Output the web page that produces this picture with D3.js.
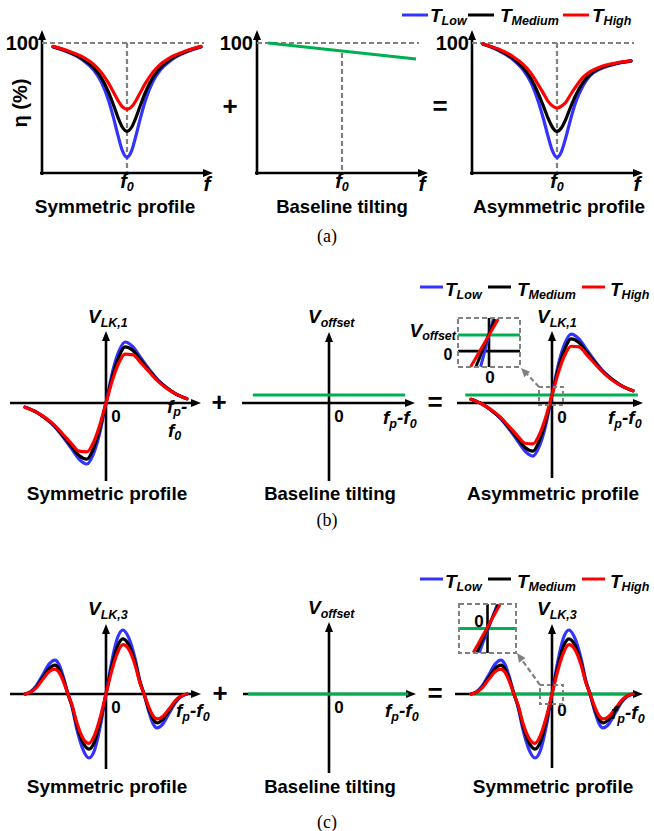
<!DOCTYPE html>
<html><head><meta charset="utf-8">
<script src="https://d3js.org/d3.v7.min.js"></script>
<style>html,body{margin:0;padding:0;background:#fff}svg{display:block}</style>
</head><body>
<svg id="fig" width="654" height="831"></svg>
<script>
// ===================== DATA =====================
const seriesKeys = ["Low", "Medium", "High"];
const legendMain = "T";

// (a) transmission efficiency eta (%) vs normalized detuning (f - f0)
const detuneA = [-1, -0.8, -0.6, -0.45, -0.35, -0.25, -0.18, -0.12, -0.06, 0, 0.06, 0.12, 0.18, 0.25, 0.35, 0.45, 0.6, 0.8, 1];
const etaSymLow  = [97, 93, 87, 79.2, 70.3, 56, 42, 28.5, 16.8, 12, 16.8, 28.5, 42, 56, 70.3, 79.2, 87, 93, 97];
const etaSymMed  = [97.2, 93.5, 87.8, 81, 73.5, 62.2, 51.9, 42.5, 35, 32, 35, 42.5, 51.9, 62.2, 73.5, 81, 87.8, 93.5, 97.2];
const etaSymHigh = [97.4, 94, 89.3, 83.6, 77.6, 69.1, 61.9, 55.6, 50.8, 49, 50.8, 55.6, 61.9, 69.1, 77.6, 83.6, 89.3, 94, 97.4];
const tiltX = [-1, 1];
const tiltEta = [100, 87.7];
const etaAsymLow  = [99, 94.5, 87.5, 78.7, 69.3, 54.5, 41, 28, 16.8, 12, 16.5, 27.5, 40.5, 54, 67, 75, 80.5, 84, 86];
const etaAsymMed  = [99.2, 95, 88.3, 80.5, 72.5, 60.7, 50.9, 42, 35, 32, 34.8, 41.5, 50.2, 59.5, 69.5, 76, 81, 84.3, 86.2];
const etaAsymHigh = [99.3, 95.5, 89.8, 83.1, 76.6, 67.6, 60.9, 55.1, 51.5, 50, 51.5, 54.5, 60, 66, 73.5, 78, 82, 84.6, 86.4];
const yTickA = ["100"];

// (b) V_LK,1 vs (fp - f0), normalized
const detuneB = [-1, -0.86, -0.75, -0.64, -0.54, -0.43, -0.333, -0.235, -0.16, -0.086, 0, 0.086, 0.16, 0.235, 0.333, 0.43, 0.54, 0.64, 0.75, 0.86, 1];
const lk1Low  = [-0.07, -0.15, -0.25, -0.38, -0.54, -0.74, -0.92, -1.0, -0.85, -0.54, 0, 0.54, 0.85, 1.0, 0.92, 0.74, 0.54, 0.38, 0.25, 0.15, 0.07];
const lk1Med  = [-0.07, -0.15, -0.25, -0.37, -0.52, -0.70, -0.86, -0.92, -0.76, -0.47, 0, 0.47, 0.76, 0.92, 0.86, 0.70, 0.52, 0.37, 0.25, 0.15, 0.07];
const lk1High = [-0.07, -0.15, -0.24, -0.36, -0.50, -0.66, -0.79, -0.80, -0.66, -0.40, 0, 0.40, 0.66, 0.80, 0.79, 0.66, 0.50, 0.36, 0.24, 0.15, 0.07];
const offsetMidBX = [-0.94, 0.94];
const offsetRightBX = [-1.07, 1.06];
const offsetB = [0.13, 0.13];
const lk1AsymLow  = [0.06, -0.02, -0.12, -0.25, -0.41, -0.61, -0.79, -0.87, -0.72, -0.41, 0.13, 0.67, 0.98, 1.13, 1.05, 0.87, 0.67, 0.51, 0.38, 0.28, 0.20];
const lk1AsymMed  = [0.06, -0.02, -0.12, -0.24, -0.39, -0.57, -0.73, -0.79, -0.63, -0.34, 0.13, 0.60, 0.89, 1.05, 0.99, 0.83, 0.65, 0.50, 0.38, 0.28, 0.20];
const lk1AsymHigh = [0.06, -0.02, -0.11, -0.23, -0.37, -0.53, -0.66, -0.67, -0.53, -0.27, 0.13, 0.53, 0.79, 0.93, 0.92, 0.79, 0.63, 0.49, 0.37, 0.28, 0.20];
// inset (b): zoomed lines near the origin, [x, y] end points in inset units
const insetBLow  = [[-0.27, -0.99], [0.14, 0.96]];
const insetBMed  = [[-0.42, -0.99], [0.19, 0.96]];
const insetBHigh = [[-0.59, -0.99], [0.30, 0.96]];
const insetBLevels = [0.31, -0.35]; // V_offset level, zero level

// (c) V_LK,3 vs (fp - f0), normalized
const detuneC = [-1, -0.93, -0.86, -0.78, -0.70, -0.63, -0.58, -0.53, -0.47, -0.42, -0.36, -0.28, -0.21, -0.14, -0.07, 0, 0.07, 0.14, 0.21, 0.28, 0.36, 0.42, 0.47, 0.53, 0.58, 0.63, 0.70, 0.78, 0.86, 0.93, 1];
const lk3Low  = [0, 0.04, 0.13, 0.30, 0.47, 0.53, 0.46, 0.28, 0, -0.20, -0.55, -0.88, -1.0, -0.87, -0.50, 0, 0.50, 0.87, 1.0, 0.88, 0.55, 0.20, 0, -0.28, -0.46, -0.53, -0.47, -0.30, -0.13, -0.04, 0];
const lk3Med  = [0, 0.03, 0.11, 0.26, 0.40, 0.45, 0.39, 0.24, 0, -0.18, -0.49, -0.77, -0.86, -0.74, -0.42, 0, 0.42, 0.74, 0.86, 0.77, 0.49, 0.18, 0, -0.24, -0.39, -0.45, -0.40, -0.26, -0.11, -0.03, 0];
const lk3High = [0, 0.03, 0.10, 0.23, 0.35, 0.39, 0.34, 0.21, 0, -0.17, -0.45, -0.70, -0.77, -0.64, -0.36, 0, 0.36, 0.64, 0.77, 0.70, 0.45, 0.17, 0, -0.21, -0.34, -0.39, -0.35, -0.23, -0.10, -0.03, 0];
const offsetMidCX = [-1.0, 0.98];
const offsetRightCX = [-1.0, 1.0];
const offsetC = [0, 0];
const insetCLow  = [[-0.29, -0.99], [0.34, 0.98]];
const insetCMed  = [[-0.38, -0.99], [0.38, 0.98]];
const insetCHigh = [[-0.50, -0.99], [0.44, 0.98]];
const insetCLevels = [0];

const panelTitles = ["Symmetric profile", "Baseline tilting", "Asymmetric profile"];
const captions = ["(a)", "(b)", "(c)"];

// ===================== STYLE / HELPERS =====================
const FONT = "'Liberation Sans', Arial, Helvetica, sans-serif";
const SERIF = "'Liberation Serif', 'Times New Roman', serif";
const colorOf = {Low: "#3333ff", Medium: "#000000", High: "#ff0000"};
const GREEN = "#00b050", GRAY = "#808080";
const svg = d3.select("#fig");

function tri(g, x, y, angle, L, W, color) {
  const ca = Math.cos(angle), sa = Math.sin(angle);
  const bx = x - L * ca, by = y - L * sa;
  const pts = [[x, y], [bx - W / 2 * (-sa), by - W / 2 * ca], [bx + W / 2 * (-sa), by + W / 2 * ca]];
  g.append("path").attr("d", "M" + pts.map(p => p.join(",")).join("L") + "Z").attr("fill", color || "#000");
}
function axes(g, x0, yTop, yBot, y0, xLeft, xRight) {
  g.append("line").attr("x1", x0).attr("x2", x0).attr("y1", yBot).attr("y2", yTop + 8)
    .attr("stroke", "#000").attr("stroke-width", 2.6);
  tri(g, x0, yTop, -Math.PI / 2, 10, 8);
  g.append("line").attr("x1", xLeft).attr("x2", xRight - 8).attr("y1", y0).attr("y2", y0)
    .attr("stroke", "#000").attr("stroke-width", 2.6);
  tri(g, xRight, y0, 0, 10, 8);
}
function rich(g, x, y, parts, anchor) {
  const t = g.append("text").attr("x", x).attr("y", y)
    .attr("font-family", FONT).attr("font-weight", "bold")
    .attr("text-anchor", anchor || "start").attr("fill", "#000");
  let cur = 0;
  parts.forEach(p => {
    const s = t.append("tspan").text(p[0]).attr("font-size", p[1]);
    const d = (p[2] || 0) - cur;
    if (d) s.attr("dy", d);
    cur = p[2] || 0;
    s.attr("font-style", p[3] === false ? "normal" : "italic");
  });
  return t;
}
function plain(g, x, y, str, size, anchor) {
  return g.append("text").attr("x", x).attr("y", y).text(str)
    .attr("font-family", FONT).attr("font-weight", "bold").attr("font-size", size)
    .attr("text-anchor", anchor || "middle").attr("fill", "#000");
}
function curve(g, xs, ys, xS, yS, color, w) {
  const line = d3.line().x((d, i) => xS(xs[i])).y(d => yS(d)).curve(d3.curveMonotoneX);
  g.append("path").attr("d", line(ys)).attr("fill", "none")
    .attr("stroke", color).attr("stroke-width", w || 3).attr("stroke-linejoin", "round").attr("stroke-linecap", "round");
}
function dashed(g, x1, y1, x2, y2) {
  g.append("line").attr("x1", x1).attr("y1", y1).attr("x2", x2).attr("y2", y2)
    .attr("stroke", GRAY).attr("stroke-width", 2.2).attr("stroke-dasharray", "5,3");
}
function legend(y, lineX, lineLen, textX, baseline) {
  const g = svg.append("g");
  seriesKeys.forEach((k, i) => {
    g.append("line").attr("x1", lineX[i]).attr("x2", lineX[i] + lineLen).attr("y1", y).attr("y2", y)
      .attr("stroke", colorOf[k]).attr("stroke-width", 3);
    rich(g, textX[i], baseline, [[legendMain, 19], [k, 12.5, 3]]);
  });
}
function fpf0(g, x, y) {
  rich(g, x, y, [["f", 19], ["p", 12.5, 4], ["-", 19, 0], ["f", 19, 0], ["0", 12.5, 4]]);
}

// ===================== PANEL (a) =====================
const symA = {Low: etaSymLow, Medium: etaSymMed, High: etaSymHigh};
const asymA = {Low: etaAsymLow, Medium: etaAsymMed, High: etaAsymHigh};
const offA = [0, 215, 430];
const yA = d3.scaleLinear().domain([0, 100]).range([173, 43]);
offA.forEach((ox, p) => {
  const g = svg.append("g");
  const xA = d3.scaleLinear().domain([-1, 1]).range([ox + 53, ox + 201]);
  axes(g, ox + 42, 30, 175, 173, ox + 40, ox + 213);
  dashed(g, ox + 42, yA(100), ox + 204, yA(100));
  if (p === 1) {
    dashed(g, xA(0), yA(d3.mean(tiltEta)) + 2, xA(0), 172);
    g.append("line").attr("x1", xA(tiltX[0])).attr("x2", xA(tiltX[1]))
      .attr("y1", yA(tiltEta[0])).attr("y2", yA(tiltEta[1]))
      .attr("stroke", GREEN).attr("stroke-width", 3);
  } else {
    dashed(g, xA(0), yA(100), xA(0), 172);
    const src = p === 0 ? symA : asymA;
    seriesKeys.forEach(k => curve(g, detuneA, src[k], xA, yA, colorOf[k], 3.2));
  }
  plain(g, [39, 253, 469][p], 50, yTickA[0], 20, "end");
  rich(g, xA(0), 188, [["f", 20], ["0", 12.5, 3]], "middle");
  rich(g, ox + 207, 191, [["f", 21]], "middle");
  plain(g, [115, 342, 559][p], 213, panelTitles[p], p === 1 ? 18.5 : 19, "middle");
});
svg.append("text").attr("transform", "translate(27,103) rotate(-90)")
  .attr("text-anchor", "middle").attr("font-family", FONT).attr("font-weight", "bold")
  .attr("font-size", 20).text("η (%)");
plain(svg, 230, 115, "+", 26, "middle");
plain(svg, 440, 115, "=", 26, "middle");
legend(15, [402, 468, 563], 26, [430, 500, 592], 22);
svg.append("text").attr("x", 327).attr("y", 242).attr("text-anchor", "middle")
  .attr("font-family", SERIF).attr("font-size", 18).text(captions[0]);

// ===================== PANEL (b) =====================
const symB = {Low: lk1Low, Medium: lk1Med, High: lk1High};
const asymB = {Low: lk1AsymLow, Medium: lk1AsymMed, High: lk1AsymHigh};
const yB = d3.scaleLinear().domain([-1, 1]).range([464, 342]);
{
  const g = svg.append("g");
  const xS = d3.scaleLinear().domain([-1, 1]).range([25, 187]);
  axes(g, 106, 331, 481, 403, 10, 201);
  seriesKeys.forEach(k => curve(g, detuneB, symB[k], xS, yB, colorOf[k], 3.2));
  rich(g, 88, 323, [["V", 19], ["LK,1", 12.5, 4]]);
  plain(g, 116, 422, "0", 17);
  rich(g, 167, 413, [["f", 19], ["p", 12.5, 3], ["-", 19, 0]]);
  rich(g, 168, 437, [["f", 19], ["0", 12.5, 3]]);
  plain(g, 107, 500, panelTitles[0], 19);
}
{
  const g = svg.append("g");
  const xS = d3.scaleLinear().domain([-1, 1]).range([248, 410]);
  axes(g, 329, 332, 481, 403, 242, 415);
  g.append("line").attr("x1", xS(offsetMidBX[0])).attr("x2", xS(offsetMidBX[1]))
    .attr("y1", yB(offsetB[0])).attr("y2", yB(offsetB[1])).attr("stroke", GREEN).attr("stroke-width", 3);
  rich(g, 308, 323, [["V", 19], ["offset", 12.5, 4]]);
  plain(g, 339, 422, "0", 17);
  fpf0(g, 383, 424);
  plain(g, 330, 500, panelTitles[1], 18.5);
}
{
  const g = svg.append("g");
  const xS = d3.scaleLinear().domain([-1, 1]).range([471, 633]);
  axes(g, 552, 331, 478, 403, 457, 643);
  g.append("line").attr("x1", xS(offsetRightBX[0])).attr("x2", xS(offsetRightBX[1]))
    .attr("y1", yB(offsetB[0])).attr("y2", yB(offsetB[1])).attr("stroke", GREEN).attr("stroke-width", 3);
  seriesKeys.forEach(k => curve(g, detuneB, asymB[k], xS, yB, colorOf[k], 3.2));
  rich(g, 537, 323, [["V", 19], ["LK,1", 12.5, 4]]);
  plain(g, 562, 423, "0", 17);
  fpf0(g, 608, 424);
  plain(g, 553, 500, panelTitles[2], 19);
  g.append("rect").attr("x", 539).attr("y", 387).attr("width", 24).attr("height", 18)
    .attr("fill", "none").attr("stroke", GRAY).attr("stroke-width", 2).attr("stroke-dasharray", "4,3");
  dashed(g, 539, 387, 527, 374);
  tri(g, 521, 368, Math.atan2(368 - 387, 521 - 539), 9, 8, GRAY);
  const ix = d3.scaleLinear().domain([-1, 1]).range([458, 520]);
  const iy = d3.scaleLinear().domain([-1, 1]).range([367, 318]);
  g.append("line").attr("x1", 458).attr("x2", 520).attr("y1", iy(insetBLevels[1])).attr("y2", iy(insetBLevels[1]))
    .attr("stroke", "#000").attr("stroke-width", 2.6);
  g.append("line").attr("x1", ix(0)).attr("x2", ix(0)).attr("y1", 318).attr("y2", 367)
    .attr("stroke", "#000").attr("stroke-width", 2.6);
  g.append("line").attr("x1", 458).attr("x2", 520).attr("y1", iy(insetBLevels[0])).attr("y2", iy(insetBLevels[0]))
    .attr("stroke", GREEN).attr("stroke-width", 3);
  const ins = {Low: insetBLow, Medium: insetBMed, High: insetBHigh};
  seriesKeys.forEach(k => g.append("line")
    .attr("x1", ix(ins[k][0][0])).attr("y1", iy(ins[k][0][1])).attr("x2", ix(ins[k][1][0])).attr("y2", iy(ins[k][1][1]))
    .attr("stroke", colorOf[k]).attr("stroke-width", 3));
  g.append("rect").attr("x", 458).attr("y", 318).attr("width", 62).attr("height", 49)
    .attr("fill", "none").attr("stroke", GRAY).attr("stroke-width", 2).attr("stroke-dasharray", "5,3");
  rich(g, 456, 337, [["V", 19], ["offset", 12.5, 3]], "end");
  plain(g, 448, 360, "0", 16);
  plain(g, 490, 383, "0", 17);
}
plain(svg, 219, 411, "+", 26, "middle");
plain(svg, 435, 411, "=", 26, "middle");
legend(287, [420, 488, 582], 23, [445, 517, 610], 296);
svg.append("text").attr("x", 327).attr("y", 526).attr("text-anchor", "middle")
  .attr("font-family", SERIF).attr("font-size", 18).text(captions[1]);

// ===================== PANEL (c) =====================
const symC = {Low: lk3Low, Medium: lk3Med, High: lk3High};
const yC = d3.scaleLinear().domain([-1, 1]).range([758, 630]);
{
  const g = svg.append("g");
  const xS = d3.scaleLinear().domain([-1, 1]).range([25, 187]);
  axes(g, 106, 624, 769, 694, 10, 201);
  seriesKeys.forEach(k => curve(g, detuneC, symC[k], xS, yC, colorOf[k], 3.2));
  rich(g, 88, 615, [["V", 19], ["LK,3", 12.5, 4]]);
  plain(g, 116, 713, "0", 17);
  fpf0(g, 176, 717);
  plain(g, 107, 793, panelTitles[0], 19);
}
{
  const g = svg.append("g");
  const xS = d3.scaleLinear().domain([-1, 1]).range([248, 410]);
  axes(g, 329, 622, 773, 694, 243, 416);
  g.append("line").attr("x1", xS(offsetMidCX[0])).attr("x2", xS(offsetMidCX[1]))
    .attr("y1", yC(offsetC[0])).attr("y2", yC(offsetC[1])).attr("stroke", GREEN).attr("stroke-width", 3);
  rich(g, 308, 614, [["V", 19], ["offset", 12.5, 4]]);
  plain(g, 339, 713, "0", 17);
  fpf0(g, 385, 717);
  plain(g, 330, 793, panelTitles[1], 18.5);
}
{
  const g = svg.append("g");
  const xS = d3.scaleLinear().domain([-1, 1]).range([471, 633]);
  axes(g, 552, 624, 768, 694, 455, 643);
  g.append("line").attr("x1", xS(offsetRightCX[0])).attr("x2", xS(offsetRightCX[1]))
    .attr("y1", yC(offsetC[0])).attr("y2", yC(offsetC[1])).attr("stroke", GREEN).attr("stroke-width", 3);
  seriesKeys.forEach(k => curve(g, detuneC, symC[k], xS, yC, colorOf[k], 3.2));
  rich(g, 537, 615, [["V", 19], ["LK,3", 12.5, 4]]);
  plain(g, 562, 716, "0", 17);
  fpf0(g, 611, 719);
  plain(g, 553, 793, panelTitles[0], 19);
  g.append("rect").attr("x", 540).attr("y", 685).attr("width", 23).attr("height", 19)
    .attr("fill", "none").attr("stroke", GRAY).attr("stroke-width", 2).attr("stroke-dasharray", "4,3");
  dashed(g, 540, 685, 522, 660);
  tri(g, 517, 653, Math.atan2(653 - 685, 517 - 540), 9, 8, GRAY);
  const ix = d3.scaleLinear().domain([-1, 1]).range([459, 516]);
  const iy = d3.scaleLinear().domain([-1, 1]).range([653, 604]);
  g.append("line").attr("x1", ix(0)).attr("x2", ix(0)).attr("y1", 604).attr("y2", 653)
    .attr("stroke", "#000").attr("stroke-width", 2.6);
  g.append("line").attr("x1", 459).attr("x2", 516).attr("y1", iy(insetCLevels[0])).attr("y2", iy(insetCLevels[0]))
    .attr("stroke", GREEN).attr("stroke-width", 3);
  const ins = {Low: insetCLow, Medium: insetCMed, High: insetCHigh};
  seriesKeys.forEach(k => g.append("line")
    .attr("x1", ix(ins[k][0][0])).attr("y1", iy(ins[k][0][1])).attr("x2", ix(ins[k][1][0])).attr("y2", iy(ins[k][1][1]))
    .attr("stroke", colorOf[k]).attr("stroke-width", 3));
  g.append("rect").attr("x", 459).attr("y", 604).attr("width", 57).attr("height", 49)
    .attr("fill", "none").attr("stroke", GRAY).attr("stroke-width", 2).attr("stroke-dasharray", "5,3");
  plain(g, 479, 627, "0", 17);
}
plain(svg, 220, 702, "+", 26, "middle");
plain(svg, 435, 702, "=", 26, "middle");
legend(579, [420, 488, 582], 23, [445, 517, 610], 588);
svg.append("text").attr("x", 327).attr("y", 828).attr("text-anchor", "middle")
  .attr("font-family", SERIF).attr("font-size", 18).text(captions[2]);
</script>
</body></html>
